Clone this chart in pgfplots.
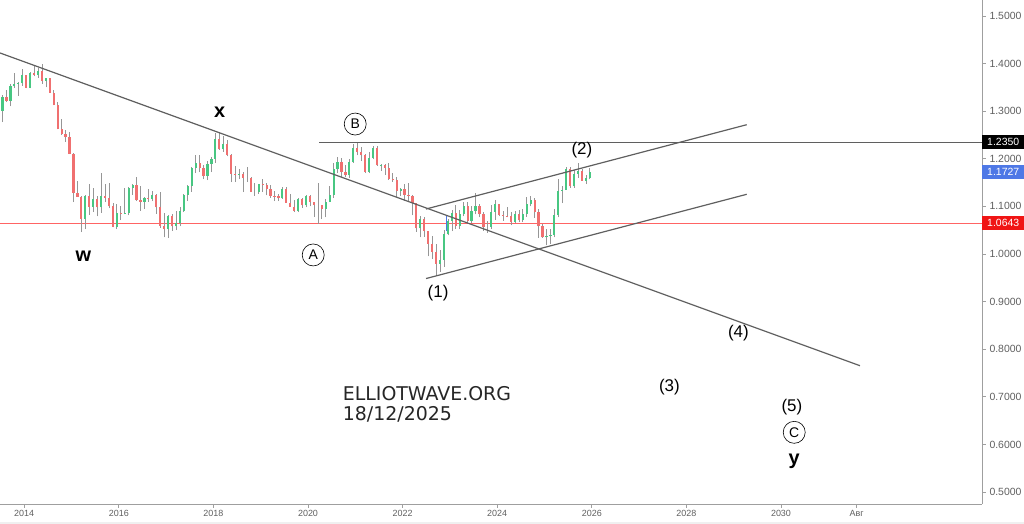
\documentclass[border=0pt]{standalone}
\usepackage{fontspec}
\setmainfont{Liberation Sans}
\newfontfamily\wmfont{DejaVu Sans}
\usepackage{pgfplots}
\usepackage{pgfplotstable}
\pgfplotsset{compat=1.18}

\definecolor{upc}{RGB}{72,199,130}
\definecolor{dnc}{RGB}{240,112,112}
\definecolor{wick}{RGB}{150,150,150}
\definecolor{trend}{RGB}{95,95,95}
\definecolor{levelred}{RGB}{255,100,100}
\definecolor{bluebox}{RGB}{78,120,230}
\definecolor{redbox}{RGB}{240,20,20}
\definecolor{ticktext}{RGB}{95,95,95}

% monthly OHLC
\pgfplotstableread{
yr mo o h l c
2013 7 1.301 1.335 1.277 1.330
2013 8 1.330 1.345 1.319 1.322
2013 9 1.322 1.358 1.310 1.352
2013 10 1.352 1.381 1.349 1.358
2013 11 1.358 1.362 1.332 1.359
2013 12 1.359 1.389 1.353 1.375
2014 1 1.375 1.377 1.348 1.349
2014 2 1.349 1.383 1.348 1.381
2014 3 1.381 1.397 1.373 1.377
2014 4 1.377 1.390 1.370 1.385
2014 5 1.385 1.399 1.358 1.363
2014 6 1.363 1.370 1.350 1.369
2014 7 1.369 1.370 1.339 1.339
2014 8 1.339 1.345 1.313 1.313
2014 9 1.313 1.319 1.262 1.263
2014 10 1.263 1.284 1.251 1.253
2014 11 1.253 1.260 1.236 1.245
2014 12 1.245 1.257 1.210 1.210
2015 1 1.210 1.212 1.109 1.129
2015 2 1.129 1.153 1.120 1.120
2015 3 1.120 1.121 1.046 1.073
2015 4 1.073 1.123 1.052 1.122
2015 5 1.122 1.147 1.082 1.099
2015 6 1.099 1.139 1.088 1.115
2015 7 1.115 1.121 1.079 1.098
2015 8 1.098 1.171 1.087 1.121
2015 9 1.121 1.146 1.109 1.118
2015 10 1.118 1.150 1.096 1.100
2015 11 1.100 1.107 1.056 1.057
2015 12 1.057 1.104 1.052 1.086
2016 1 1.086 1.100 1.071 1.083
2016 2 1.083 1.138 1.085 1.087
2016 3 1.087 1.140 1.081 1.138
2016 4 1.138 1.146 1.124 1.145
2016 5 1.145 1.162 1.111 1.113
2016 6 1.113 1.142 1.091 1.110
2016 7 1.110 1.120 1.095 1.117
2016 8 1.117 1.137 1.110 1.116
2016 9 1.116 1.132 1.111 1.124
2016 10 1.124 1.126 1.085 1.098
2016 11 1.098 1.130 1.055 1.059
2016 12 1.059 1.087 1.035 1.052
2017 1 1.052 1.082 1.034 1.080
2017 2 1.080 1.083 1.049 1.058
2017 3 1.058 1.091 1.050 1.065
2017 4 1.065 1.098 1.058 1.090
2017 5 1.090 1.126 1.088 1.124
2017 6 1.124 1.145 1.112 1.142
2017 7 1.142 1.183 1.131 1.180
2017 8 1.180 1.207 1.170 1.191
2017 9 1.191 1.209 1.172 1.181
2017 10 1.181 1.188 1.157 1.164
2017 11 1.164 1.196 1.155 1.190
2017 12 1.190 1.203 1.172 1.200
2018 1 1.200 1.254 1.192 1.241
2018 2 1.241 1.256 1.219 1.220
2018 3 1.220 1.248 1.215 1.232
2018 4 1.232 1.240 1.205 1.208
2018 5 1.208 1.210 1.151 1.169
2018 6 1.169 1.185 1.151 1.168
2018 7 1.168 1.179 1.158 1.169
2018 8 1.169 1.173 1.130 1.160
2018 9 1.160 1.182 1.151 1.160
2018 10 1.160 1.162 1.132 1.131
2018 11 1.131 1.150 1.122 1.131
2018 12 1.131 1.148 1.127 1.146
2019 1 1.146 1.157 1.131 1.145
2019 2 1.145 1.149 1.123 1.137
2019 3 1.137 1.145 1.118 1.122
2019 4 1.122 1.132 1.111 1.121
2019 5 1.121 1.127 1.111 1.117
2019 6 1.117 1.141 1.116 1.137
2019 7 1.137 1.140 1.110 1.108
2019 8 1.108 1.125 1.103 1.099
2019 9 1.099 1.113 1.088 1.090
2019 10 1.090 1.118 1.088 1.115
2019 11 1.115 1.117 1.097 1.102
2019 12 1.102 1.124 1.098 1.121
2020 1 1.121 1.124 1.100 1.109
2020 2 1.109 1.110 1.078 1.103
2020 3 1.103 1.150 1.064 1.103
2020 4 1.103 1.102 1.073 1.095
2020 5 1.095 1.115 1.077 1.110
2020 6 1.110 1.142 1.109 1.123
2020 7 1.123 1.191 1.118 1.178
2020 8 1.178 1.203 1.170 1.194
2020 9 1.194 1.201 1.161 1.172
2020 10 1.172 1.188 1.162 1.165
2020 11 1.165 1.200 1.160 1.193
2020 12 1.193 1.231 1.192 1.222
2021 1 1.222 1.235 1.207 1.214
2021 2 1.214 1.224 1.195 1.207
2021 3 1.207 1.211 1.170 1.173
2021 4 1.173 1.215 1.170 1.202
2021 5 1.202 1.227 1.199 1.223
2021 6 1.223 1.227 1.185 1.186
2021 7 1.186 1.190 1.175 1.187
2021 8 1.187 1.190 1.166 1.181
2021 9 1.181 1.191 1.156 1.158
2021 10 1.158 1.170 1.152 1.156
2021 11 1.156 1.161 1.119 1.133
2021 12 1.133 1.139 1.122 1.137
2022 1 1.137 1.148 1.112 1.124
2022 2 1.124 1.149 1.111 1.122
2022 3 1.122 1.123 1.081 1.107
2022 4 1.107 1.108 1.047 1.054
2022 5 1.054 1.079 1.035 1.073
2022 6 1.073 1.077 1.036 1.048
2022 7 1.048 1.049 0.995 1.022
2022 8 1.022 1.037 0.990 1.005
2022 9 1.005 1.020 0.954 0.980
2022 10 0.980 1.009 0.963 0.988
2022 11 0.988 1.050 0.973 1.041
2022 12 1.041 1.074 1.039 1.070
2023 1 1.070 1.093 1.048 1.086
2023 2 1.086 1.103 1.053 1.058
2023 3 1.058 1.093 1.052 1.084
2023 4 1.084 1.109 1.079 1.101
2023 5 1.101 1.109 1.065 1.069
2023 6 1.069 1.101 1.066 1.091
2023 7 1.091 1.128 1.083 1.100
2023 8 1.100 1.104 1.077 1.084
2023 9 1.084 1.088 1.049 1.057
2023 10 1.057 1.070 1.045 1.057
2023 11 1.057 1.102 1.052 1.089
2023 12 1.089 1.114 1.072 1.104
2024 1 1.104 1.104 1.079 1.082
2024 2 1.082 1.090 1.070 1.080
2024 3 1.080 1.098 1.077 1.079
2024 4 1.079 1.088 1.060 1.067
2024 5 1.067 1.090 1.065 1.085
2024 6 1.085 1.092 1.067 1.071
2024 7 1.071 1.095 1.067 1.083
2024 8 1.083 1.120 1.078 1.105
2024 9 1.105 1.121 1.100 1.114
2024 10 1.114 1.117 1.076 1.088
2024 11 1.088 1.094 1.034 1.058
2024 12 1.058 1.063 1.034 1.035
2025 1 1.035 1.053 1.018 1.037
2025 2 1.037 1.053 1.021 1.040
2025 3 1.040 1.095 1.035 1.082
2025 4 1.082 1.157 1.077 1.133
2025 5 1.133 1.142 1.107 1.135
2025 6 1.135 1.183 1.136 1.179
2025 7 1.179 1.183 1.139 1.142
2025 8 1.142 1.177 1.139 1.168
2025 9 1.168 1.192 1.160 1.174
2025 10 1.174 1.178 1.154 1.154
2025 11 1.154 1.166 1.147 1.160
2025 12 1.160 1.180 1.157 1.173
}\price

\begin{document}
\begin{tikzpicture}
\fill[gray!12] (0,0) rectangle (1024bp,2bp);
\begin{axis}[
    at={(0,20bp)}, anchor=south west,
    scale only axis,
    width=982bp, height=504bp,
    xmin=2013.488, xmax=2034.25,
    ymin=0.4748, ymax=1.5336,
    axis x line=bottom, axis y line=right,
    axis line style={-, draw=gray!75, line width=0.9bp},
    tick align=outside,
    major tick length=4bp,
    tick style={gray!75, line width=0.7bp},
    xtick={2014,2016,2018,2020,2022,2024,2026,2028,2030,2031.6},
    xticklabels={2014,2016,2018,2020,2022,2024,2026,2028,2030,Авг},
    ytick={0.5,0.6,0.7,0.8,0.9,1.0,1.1,1.2,1.3,1.4,1.5},
    yticklabel={\pgfmathprintnumber[fixed,fixed zerofill,precision=4]{\tick}},
    /pgf/number format/assume math mode=true,
    xticklabel style={font=\fontsize{9}{9}\selectfont, text=ticktext, yshift=1bp},
    yticklabel style={font=\fontsize{10.5}{10.5}\selectfont, text=ticktext, anchor=west},
    clip=false,
]
% support level at 1.0643: a thin filled node, as node fills keep their colour
\node[anchor=west, inner sep=0pt, outer sep=0pt, minimum width=982bp, minimum height=1.3bp, fill=levelred] at (axis cs:2013.488,1.0643) {};
% wicks
\addplot[draw=none, mark=none, forget plot,
    error bars/.cd, y dir=plus, y explicit, error mark=none,
    error bar style={draw=wick, solid, line width=0.7bp}]
    table[x expr=\thisrow{yr}+(\thisrow{mo}-0.5)/12, y=l, y error expr=\thisrow{h}-\thisrow{l}] {\price};
% rising bodies
\addplot[draw=none, mark=none, forget plot,
    restrict expr to domain={\thisrow{c}-\thisrow{o}}{0:1},
    error bars/.cd, y dir=plus, y explicit, error mark=none,
    error bar style={draw=upc, solid, line width=2.2bp}]
    table[x expr=\thisrow{yr}+(\thisrow{mo}-0.5)/12, y=o, y error expr=\thisrow{c}-\thisrow{o}] {\price};
% falling bodies
\addplot[draw=none, mark=none, forget plot,
    restrict expr to domain={\thisrow{o}-\thisrow{c}}{0:1},
    error bars/.cd, y dir=plus, y explicit, error mark=none,
    error bar style={draw=dnc, solid, line width=2.2bp}]
    table[x expr=\thisrow{yr}+(\thisrow{mo}-0.5)/12, y=c, y error expr=\thisrow{o}-\thisrow{c}] {\price};
% small blue marker stroke in late 2022
\addplot[draw=none, mark=none, forget plot,
    error bars/.cd, y dir=plus, y explicit, error mark=none,
    error bar style={draw=bluebox, solid, line width=1bp}]
    coordinates {(2022.92,1.048) +- (0,0.032)};

% trend lines
\draw[color=trend, line width=1.2bp] (axis cs:2020.233,1.235) -- (axis cs:2034.25,1.235);
\draw[color=trend, line width=1.2bp] (axis cs:2013.488,1.4223) -- (axis cs:2031.67,0.7653);
\draw[color=trend, line width=1.2bp] (axis cs:2022.495,1.0945) -- (axis cs:2029.275,1.2716);
\draw[color=trend, line width=1.2bp] (axis cs:2022.495,0.9484) -- (axis cs:2029.275,1.1254);

% wave labels
\node[font=\bfseries\fontsize{20}{20}\selectfont] at (axis cs:2015.25,0.996) {w};
\node[font=\bfseries\fontsize{20}{20}\selectfont] at (axis cs:2018.13,1.298) {x};
\node[font=\bfseries\fontsize{20}{20}\selectfont] at (axis cs:2030.28,0.5637) {y};
\tikzset{circ/.style={circle, draw, line width=0.6bp, inner sep=0pt, minimum size=22bp, font=\fontsize{14}{14}\selectfont}}
\node[circ] at (axis cs:2020.11,0.998) {A};
\node[circ] at (axis cs:2020.998,1.273) {B};
\node[circ] at (axis cs:2030.28,0.6254) {C};
\tikzset{wv/.style={font=\fontsize{17}{17}\selectfont}}
\node[wv] at (axis cs:2022.75,0.918) {(1)};
\node[wv] at (axis cs:2025.79,1.2185) {(2)};
\node[wv] at (axis cs:2027.64,0.7206) {(3)};
\node[wv] at (axis cs:2029.10,0.8347) {(4)};
\node[wv] at (axis cs:2030.23,0.679) {(5)};

% watermark
\node[anchor=base west, inner sep=0pt, text=black!85, font=\wmfont\fontsize{19}{19}\selectfont] at (axis cs:2020.733,0.6922) {ELLIOTWAVE.ORG};
\node[anchor=base west, inner sep=0pt, text=black!85, font=\wmfont\fontsize{19}{19}\selectfont] at (axis cs:2020.733,0.6492) {18/12/2025};

% price flags on the scale
\tikzset{flag/.style={anchor=west, inner sep=0pt, minimum width=42bp, minimum height=14bp, text=white, font=\fontsize{10.5}{10.5}\selectfont}}
\node[flag, fill=black] at (axis cs:2034.25,1.235) {1.2350};
\node[flag, fill=bluebox] at (axis cs:2034.25,1.1727) {1.1727};
\node[flag, fill=redbox] at (axis cs:2034.25,1.0643) {1.0643};
\end{axis}
\pgfresetboundingbox
\path[use as bounding box] (0,0) rectangle (1024bp,524bp);
\end{tikzpicture}
\end{document}
